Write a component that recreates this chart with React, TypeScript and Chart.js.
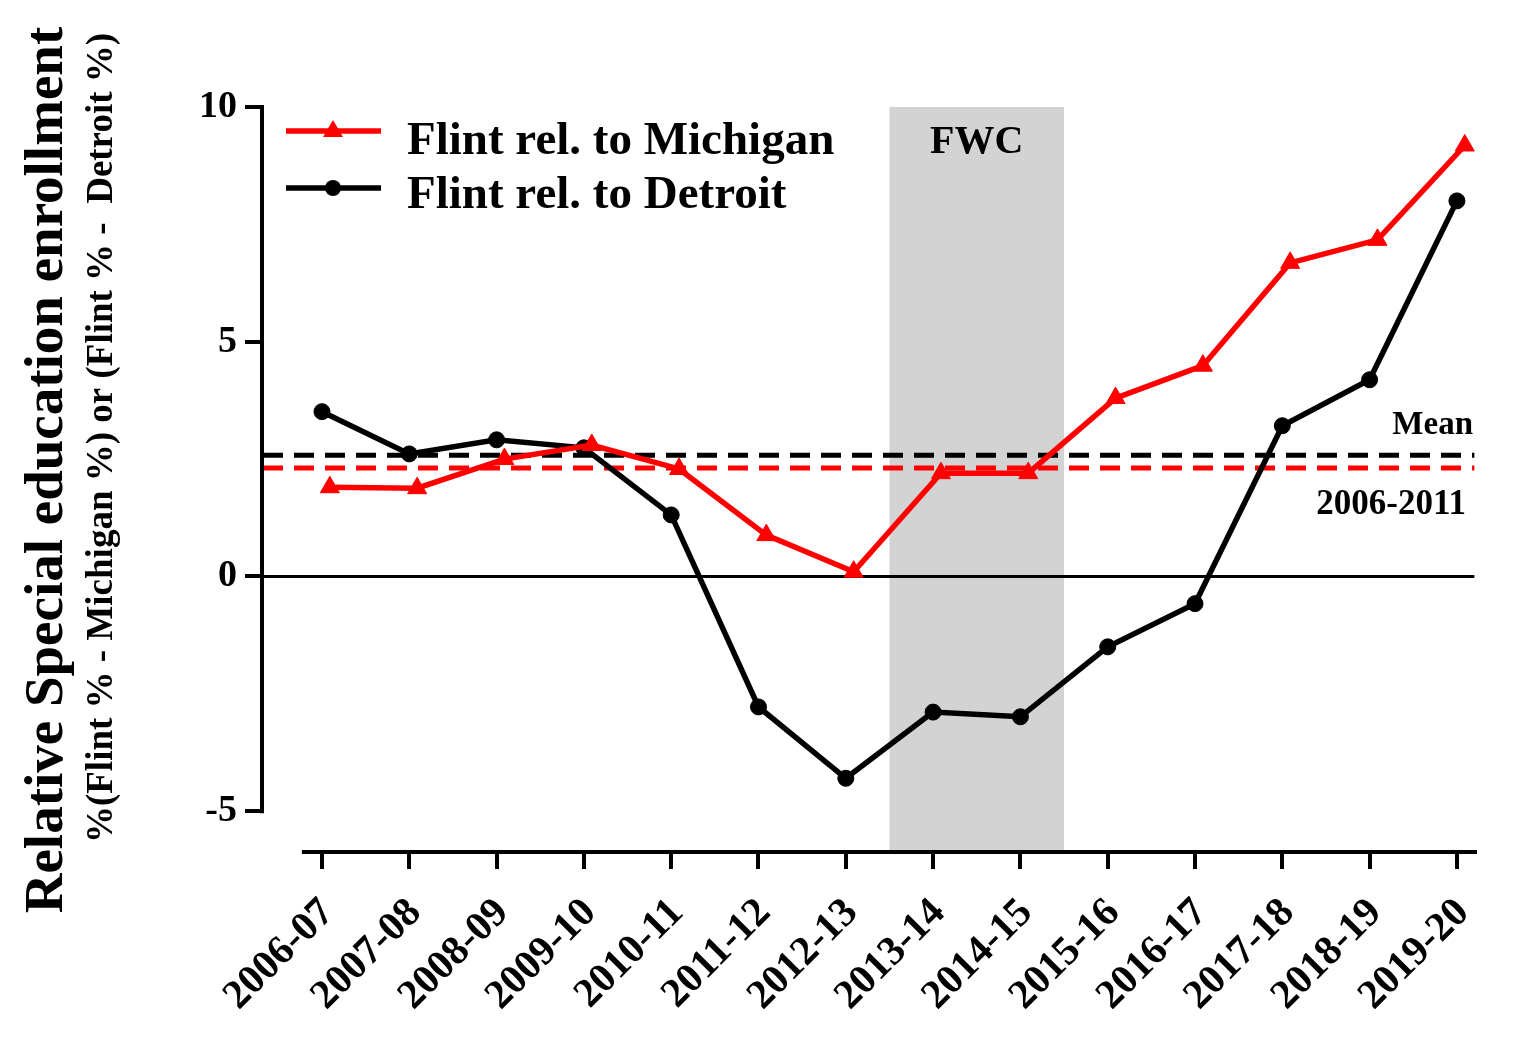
import React, { useEffect, useRef } from 'react';
import { Chart, registerables } from 'chart.js';

Chart.register(...registerables);

const years = [
  '2006-07', '2007-08', '2008-09', '2009-10', '2010-11', '2011-12', '2012-13',
  '2013-14', '2014-15', '2015-16', '2016-17', '2017-18', '2018-19', '2019-20',
];
const relMichigan = [1.9, 1.88, 2.5, 2.8, 2.29, 0.88, 0.1, 2.2, 2.2, 3.8, 4.49, 6.68, 7.17, 9.18];
const relDetroit = [3.51, 2.61, 2.91, 2.74, 1.31, -2.78, -4.3, -2.89, -2.99, -1.5, -0.58, 3.21, 4.19, 8.0];
const meanMichigan = 2.31;
const meanDetroit = 2.58;
const yTicks = [-5, 0, 5, 10];
const fwcRange = [6.5, 8.5];

const FONT = '"Liberation Serif", "Times New Roman", serif';
const RED = '#ff0000';
const BLACK = '#000000';

const overlayPlugin = {
  id: 'overlay',
  beforeDatasetsDraw(chart: any) {
    const { ctx, chartArea, scales } = chart;
    const x = scales.x;
    const y = scales.y;
    ctx.save();
    // FWC band
    ctx.fillStyle = '#d3d3d3';
    const bx0 = x.getPixelForValue(fwcRange[0]);
    const bx1 = x.getPixelForValue(fwcRange[1]);
    ctx.fillRect(bx0, y.getPixelForValue(10), bx1 - bx0, chartArea.bottom - y.getPixelForValue(10));

    const xEnd = x.getPixelForValue(13.2);
    // zero line
    ctx.strokeStyle = BLACK;
    ctx.lineWidth = 3;
    ctx.beginPath();
    ctx.moveTo(chartArea.left, y.getPixelForValue(0));
    ctx.lineTo(xEnd, y.getPixelForValue(0));
    ctx.stroke();

    // mean lines
    ctx.lineWidth = 5;
    ctx.setLineDash([20, 11]);
    [[meanDetroit, BLACK], [meanMichigan, RED]].forEach(([v, c]) => {
      ctx.strokeStyle = c as string;
      const py = y.getPixelForValue(v as number);
      ctx.beginPath();
      ctx.moveTo(chartArea.left + 1, py);
      ctx.lineTo(xEnd, py);
      ctx.stroke();
    });
    ctx.setLineDash([]);

    // axis lines
    ctx.strokeStyle = BLACK;
    ctx.lineWidth = 4;
    ctx.beginPath();
    ctx.moveTo(chartArea.left, y.getPixelForValue(10) - 2);
    ctx.lineTo(chartArea.left, y.getPixelForValue(-5) + 2);
    ctx.stroke();
    ctx.beginPath();
    ctx.moveTo(x.getPixelForValue(-0.23), chartArea.bottom);
    ctx.lineTo(chartArea.right, chartArea.bottom);
    ctx.stroke();
    ctx.restore();
  },
  afterDraw(chart: any) {
    const { ctx } = chart;
    ctx.save();
    ctx.fillStyle = BLACK;
    ctx.textBaseline = 'alphabetic';

    // axis titles
    ctx.save();
    ctx.translate(62, 470);
    ctx.rotate(-Math.PI / 2);
    ctx.textAlign = 'center';
    ctx.font = `bold 55px ${FONT}`;
    ctx.fillText('Relative Special education enrollment', 0, 0);
    ctx.restore();
    ctx.save();
    ctx.translate(112, 438);
    ctx.rotate(-Math.PI / 2);
    ctx.textAlign = 'center';
    ctx.font = `bold 37px ${FONT}`;
    ctx.fillText('%(Flint % - Michigan %) or (Flint % -  Detroit %)', 0, 0);
    ctx.restore();

    // FWC label
    ctx.textAlign = 'center';
    ctx.font = `bold 40px ${FONT}`;
    const x = chart.scales.x;
    ctx.fillText('FWC', (x.getPixelForValue(fwcRange[0]) + x.getPixelForValue(fwcRange[1])) / 2, 153);

    // mean labels
    ctx.textAlign = 'right';
    ctx.font = `bold 33px ${FONT}`;
    ctx.fillText('Mean', 1473, 434);
    ctx.font = `bold 35px ${FONT}`;
    ctx.fillText('2006-2011', 1466, 514);

    // legend
    const entries = [
      { label: 'Flint rel. to Michigan', color: RED, y: 131, tri: true },
      { label: 'Flint rel. to Detroit', color: BLACK, y: 188, tri: false },
    ];
    entries.forEach((e, i) => {
      ctx.strokeStyle = e.color;
      ctx.fillStyle = e.color;
      ctx.lineWidth = 5.5;
      ctx.beginPath();
      ctx.moveTo(286, e.y);
      ctx.lineTo(381, e.y);
      ctx.stroke();
      ctx.beginPath();
      if (e.tri) {
        ctx.moveTo(333, e.y - 11);
        ctx.lineTo(343, e.y + 6);
        ctx.lineTo(323, e.y + 6);
        ctx.closePath();
      } else {
        ctx.arc(333, e.y, 8, 0, Math.PI * 2);
      }
      ctx.fill();
      ctx.fillStyle = BLACK;
      ctx.textAlign = 'left';
      ctx.font = `bold 47px ${FONT}`;
      ctx.fillText(e.label, 407, i === 0 ? 154 : 208);
    });
    ctx.restore();
  },
};

const App: React.FC = () => {
  const canvasRef = useRef<HTMLCanvasElement>(null);
  const chartRef = useRef<Chart | null>(null);

  useEffect(() => {
    if (!canvasRef.current) return;
    if (chartRef.current) chartRef.current.destroy();

    chartRef.current = new Chart(canvasRef.current, {
      type: 'line',
      data: {
        datasets: [
          {
            label: 'Flint rel. to Michigan',
            // red markers sit slightly right of the tick, as in the source figure
            data: relMichigan.map((v, i) => ({ x: i + 0.09, y: v })),
            borderColor: RED,
            backgroundColor: RED,
            borderWidth: 5.5,
            pointStyle: 'triangle',
            pointRadius: 11,
            pointBorderWidth: 1,
            pointBorderColor: RED,
            pointBackgroundColor: RED,
          },
          {
            label: 'Flint rel. to Detroit',
            data: relDetroit.map((v, i) => ({ x: i, y: v })),
            borderColor: BLACK,
            backgroundColor: BLACK,
            borderWidth: 5.5,
            pointStyle: 'circle',
            pointRadius: 8,
            pointBorderWidth: 1,
            pointBorderColor: BLACK,
            pointBackgroundColor: BLACK,
          },
        ],
      },
      options: {
        animation: false,
        responsive: true,
        maintainAspectRatio: false,
        layout: { padding: { left: 0, top: 107, right: 47, bottom: 0 } },
        plugins: { legend: { display: false }, tooltip: { enabled: false } },
        scales: {
          x: {
            type: 'linear',
            min: -0.687,
            max: 13.23,
            border: { display: false },
            grid: { drawOnChartArea: false, tickLength: 17, color: BLACK, lineWidth: 4 },
            afterBuildTicks: (s: any) => {
              s.ticks = years.map((_, i) => ({ value: i }));
            },
            afterFit: (s: any) => {
              s.height = 185;
              s.paddingLeft = 0;
              s.paddingRight = 0;
            },
            ticks: {
              autoSkip: false,
              minRotation: 45,
              maxRotation: 45,
              padding: 20,
              labelOffset: 6,
              color: BLACK,
              font: { family: FONT, size: 41, weight: 'bold' },
              callback: (v: any) => years[v] ?? '',
            },
          },
          y: {
            min: -5.87,
            max: 10,
            border: { display: false },
            grid: { drawOnChartArea: false, tickLength: 17, color: BLACK, lineWidth: 4 },
            afterBuildTicks: (s: any) => {
              s.ticks = yTicks.map((v) => ({ value: v }));
            },
            afterFit: (s: any) => {
              s.width = 262;
              s.paddingTop = 0;
              s.paddingBottom = 0;
            },
            ticks: {
              padding: 8,
              color: BLACK,
              font: { family: FONT, size: 38, weight: 'bold' },
            },
          },
        },
      },
      plugins: [overlayPlugin],
    });

    return () => {
      if (chartRef.current) {
        chartRef.current.destroy();
        chartRef.current = null;
      }
    };
  }, []);

  return (
    <div style={{ position: 'absolute', left: 0, top: 0, width: 1524, height: 1037, background: '#fff' }}>
      <canvas ref={canvasRef}></canvas>
    </div>
  );
};

export default App;
